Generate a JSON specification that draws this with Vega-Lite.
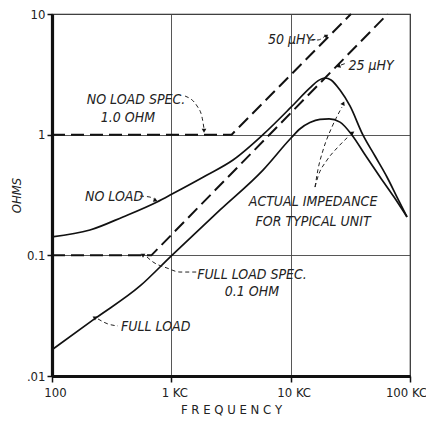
{
  "$schema": "https://vega.github.io/schema/vega-lite/v6.json",
  "width": 358,
  "height": 362,
  "autosize": {"type": "none"},
  "padding": {"left": 52, "top": 14, "right": 16, "bottom": 45},
  "background": "white",
  "config": {
    "font": "Liberation Sans Narrow, DejaVu Sans Condensed, Liberation Sans, sans-serif",
    "view": {"stroke": "#222", "strokeWidth": 1.2},
    "axis": {
      "grid": true,
      "gridColor": "#444",
      "gridWidth": 0.9,
      "domainColor": "#111",
      "domainWidth": 3.2,
      "tickColor": "#111",
      "tickWidth": 1.5,
      "labelFontSize": 13,
      "labelColor": "#222",
      "labelFlush": false,
      "titleFontSize": 13,
      "titleFontWeight": "normal",
      "titleColor": "#222"
    }
  },
  "encoding": {
    "x": {
      "field": "f",
      "type": "quantitative",
      "scale": {"type": "log", "domain": [100, 100000], "nice": false},
      "axis": {
        "values": [100, 1000, 10000, 100000],
        "labelExpr": "datum.value == 100 ? '100' : datum.value == 1000 ? '1 KC' : datum.value == 10000 ? '10 KC' : '100 KC'",
        "labelOffset": {"condition": {"test": "datum.value == 100000", "value": -4}, "value": 3},
        "title": "F R E Q U E N C Y",
        "tickSize": 6,
        "labelPadding": 4,
        "titlePadding": 4
      }
    },
    "y": {
      "field": "z",
      "type": "quantitative",
      "scale": {"type": "log", "domain": [0.01, 10], "nice": false},
      "axis": {
        "values": [0.01, 0.1, 1, 10],
        "labelExpr": "datum.value == 0.01 ? '.01' : datum.value == 0.1 ? '0.1' : datum.value == 1 ? '1' : '10'",
        "title": "OHMS",
        "titleFontStyle": "italic",
        "tickSize": 5,
        "labelPadding": 2,
        "titlePadding": 3
      }
    }
  },
  "layer": [
    {
      "data": {"values": [
        {"s": "no", "f": 100, "z": 0.142},
        {"s": "no", "f": 208, "z": 0.162},
        {"s": "no", "f": 393, "z": 0.208},
        {"s": "no", "f": 759, "z": 0.277},
        {"s": "no", "f": 1014, "z": 0.322},
        {"s": "no", "f": 1991, "z": 0.463},
        {"s": "no", "f": 3289, "z": 0.617},
        {"s": "no", "f": 5861, "z": 1.0},
        {"s": "no", "f": 10070, "z": 1.69},
        {"s": "no", "f": 14500, "z": 2.44},
        {"s": "no", "f": 16900, "z": 2.79},
        {"s": "no", "f": 19400, "z": 2.95},
        {"s": "no", "f": 21800, "z": 2.84},
        {"s": "no", "f": 25900, "z": 2.34},
        {"s": "no", "f": 31400, "z": 1.73},
        {"s": "no", "f": 40400, "z": 0.99},
        {"s": "no", "f": 50900, "z": 0.665},
        {"s": "no", "f": 64100, "z": 0.446},
        {"s": "no", "f": 77800, "z": 0.304},
        {"s": "no", "f": 94400, "z": 0.208},
        {"s": "full", "f": 100, "z": 0.0165},
        {"s": "full", "f": 230, "z": 0.030},
        {"s": "full", "f": 550, "z": 0.056},
        {"s": "full", "f": 1000, "z": 0.099},
        {"s": "full", "f": 2560, "z": 0.238},
        {"s": "full", "f": 5861, "z": 0.509},
        {"s": "full", "f": 10070, "z": 0.938},
        {"s": "full", "f": 12000, "z": 1.12},
        {"s": "full", "f": 14500, "z": 1.26},
        {"s": "full", "f": 17600, "z": 1.34},
        {"s": "full", "f": 21000, "z": 1.35},
        {"s": "full", "f": 25900, "z": 1.27},
        {"s": "full", "f": 32700, "z": 0.99},
        {"s": "full", "f": 42700, "z": 0.665},
        {"s": "full", "f": 56100, "z": 0.446},
        {"s": "full", "f": 73500, "z": 0.304},
        {"s": "full", "f": 94400, "z": 0.208}
      ]},
      "mark": {"type": "line", "interpolate": "monotone", "color": "#111", "strokeWidth": 1.7},
      "encoding": {"detail": {"field": "s"}}
    },
    {
      "data": {"values": [
        {"s": "nospec", "f": 100, "z": 1},
        {"s": "nospec", "f": 3200, "z": 1},
        {"s": "nospec", "f": 32000, "z": 10},
        {"s": "fullspec", "f": 100, "z": 0.1},
        {"s": "fullspec", "f": 680, "z": 0.1},
        {"s": "fullspec", "f": 65000, "z": 10}
      ]},
      "mark": {"type": "line", "color": "#111", "strokeWidth": 2, "strokeDash": [13, 6]},
      "encoding": {"detail": {"field": "s"}}
    },
    {
      "data": {"values": [
        {"a": "a1", "f": 1303, "z": 2.09},
        {"a": "a1", "f": 1641, "z": 1.73},
        {"a": "a1", "f": 1807, "z": 1.40},
        {"a": "a1", "f": 1879, "z": 1.12},
        {"a": "a2", "f": 546, "z": 0.31},
        {"a": "a2", "f": 662, "z": 0.304},
        {"a": "a2", "f": 720, "z": 0.29},
        {"a": "a3", "f": 14500, "z": 6.09},
        {"a": "a3", "f": 16900, "z": 6.09},
        {"a": "a3", "f": 19400, "z": 6.57},
        {"a": "a4", "f": 26400, "z": 3.78},
        {"a": "a4", "f": 29600, "z": 3.93},
        {"a": "a5", "f": 16000, "z": 0.368},
        {"a": "a5", "f": 16900, "z": 0.509},
        {"a": "a5", "f": 18700, "z": 0.746},
        {"a": "a5", "f": 22200, "z": 1.16},
        {"a": "a5", "f": 26900, "z": 1.69},
        {"a": "a6", "f": 16000, "z": 0.368},
        {"a": "a6", "f": 16900, "z": 0.446},
        {"a": "a6", "f": 20200, "z": 0.617},
        {"a": "a6", "f": 24500, "z": 0.776},
        {"a": "a6", "f": 30200, "z": 0.957},
        {"a": "a7", "f": 625, "z": 0.0969},
        {"a": "a7", "f": 702, "z": 0.0881},
        {"a": "a7", "f": 920, "z": 0.0785},
        {"a": "a7", "f": 1182, "z": 0.0727},
        {"a": "a7", "f": 1641, "z": 0.0727},
        {"a": "a8", "f": 243, "z": 0.0297},
        {"a": "a8", "f": 294, "z": 0.027},
        {"a": "a8", "f": 357, "z": 0.026}
      ]},
      "mark": {"type": "line", "interpolate": "monotone", "color": "#222", "strokeWidth": 1, "strokeDash": [4, 3]},
      "encoding": {"detail": {"field": "a"}}
    },
    {
      "data": {"values": [{"f": 1879, "z": 1.09}]},
      "mark": {"type": "point", "shape": "triangle", "filled": true, "color": "#111", "size": 22, "angle": 180, "opacity": 1}
    },
    {
      "data": {"values": [{"f": 730, "z": 0.287}]},
      "mark": {"type": "point", "shape": "triangle", "filled": true, "color": "#111", "size": 22, "angle": 115, "opacity": 1}
    },
    {
      "data": {"values": [{"f": 19800, "z": 6.58}]},
      "mark": {"type": "point", "shape": "triangle", "filled": true, "color": "#111", "size": 18, "angle": 60, "opacity": 1}
    },
    {
      "data": {"values": [{"f": 25400, "z": 3.71}]},
      "mark": {"type": "point", "shape": "triangle", "filled": true, "color": "#111", "size": 22, "angle": 250, "opacity": 1}
    },
    {
      "data": {"values": [{"f": 27500, "z": 1.80}]},
      "mark": {"type": "point", "shape": "triangle", "filled": true, "color": "#111", "size": 22, "angle": 25, "opacity": 1}
    },
    {
      "data": {"values": [{"f": 32700, "z": 1.03}]},
      "mark": {"type": "point", "shape": "triangle", "filled": true, "color": "#111", "size": 22, "angle": 55, "opacity": 1}
    },
    {
      "data": {"values": [{"f": 579, "z": 0.1005}, {"f": 229, "z": 0.0303}]},
      "mark": {"type": "point", "shape": "triangle", "filled": true, "color": "#111", "size": 22, "angle": 300, "opacity": 1}
    },
    {
      "data": {"values": [
        {"t": "NO LOAD SPEC.", "f": 506, "z": 1.94},
        {"t": "1.0 OHM", "f": 433, "z": 1.37},
        {"t": "ACTUAL  IMPEDANCE", "f": 15400, "z": 0.277},
        {"t": "FOR  TYPICAL  UNIT", "f": 15400, "z": 0.189},
        {"t": "FULL LOAD SPEC.", "f": 4740, "z": 0.0687},
        {"t": "0.1 OHM", "f": 4740, "z": 0.0497}
      ]},
      "mark": {"type": "text", "fontStyle": "italic", "fontSize": 14, "color": "#222", "align": "center", "baseline": "middle"},
      "encoding": {"text": {"field": "t"}}
    },
    {
      "data": {"values": [
        {"t": "NO LOAD", "f": 189, "z": 0.304},
        {"t": "50 µHY-", "f": 6457, "z": 6.09},
        {"t": "25 µHY", "f": 30500, "z": 3.71},
        {"t": "FULL LOAD", "f": 379, "z": 0.0255}
      ]},
      "mark": {"type": "text", "fontStyle": "italic", "fontSize": 14, "color": "#222", "align": "left", "baseline": "middle"},
      "encoding": {"text": {"field": "t"}}
    }
  ]
}
